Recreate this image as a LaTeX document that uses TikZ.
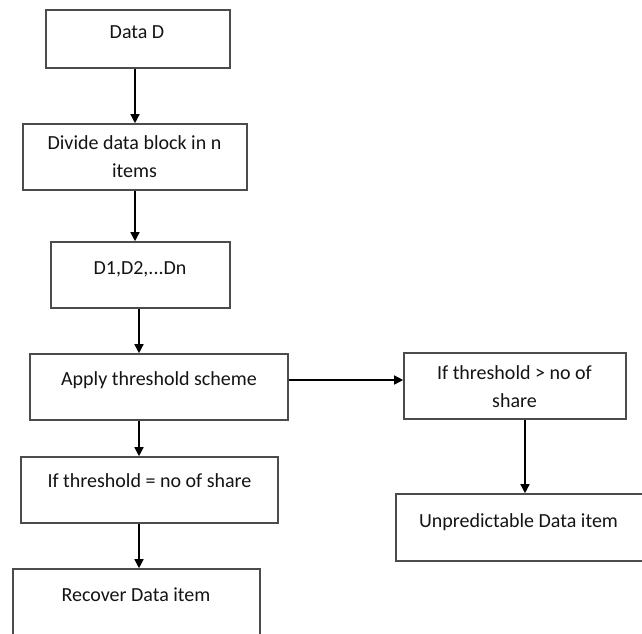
\documentclass[tikz,border=0pt]{standalone}
\usepackage{fontspec}
\setmainfont{Carlito}
\usetikzlibrary{arrows.meta}
\begin{document}
\begin{tikzpicture}[x=1pt,y=-1pt,
  box/.style={draw=black!70,line width=1.6pt,rectangle,inner sep=0pt},
  txt/.style={anchor=base,inner sep=0pt,align=center,text=black!92,
    font=\fontsize{20}{27.5}\selectfont},
  arr/.style={line width=1.4pt,-{Triangle[length=9pt,width=9pt]}}]
\useasboundingbox (0,0) rectangle (642,633);
\clip (0,0) rectangle (642,633);
\fill[white] (0,0) rectangle (642,633);
% process boxes
\node[box,minimum width=184pt,minimum height=58pt] (b1) at (138,39) {};
\node[box,minimum width=224pt,minimum height=66pt] (b2) at (135,157) {};
\node[box,minimum width=179pt,minimum height=66pt] (b3) at (140.5,275) {};
\node[box,minimum width=258pt,minimum height=66pt] (b4) at (159,387) {};
\node[box,minimum width=257pt,minimum height=66pt] (b5) at (149.5,490) {};
\node[box,minimum width=247pt,minimum height=68pt] (b6) at (136.5,603) {};
\node[box,minimum width=222pt,minimum height=66pt] (b7) at (515,386) {};
\node[box,minimum width=252pt,minimum height=67pt] (b8) at (522,527.5) {};
% labels (multi-line labels sit on the baseline of their last line)
\node[txt] (t1) at (137,38) {Data D};
\node[txt] (t2) at (134.5,177) {Divide data block in n\\items};
\node[txt] (t3) at (140,274.5) {D1,D2,...Dn};
\node[txt] (t4) at (159,385) {Apply threshold scheme};
\node[txt] (t5) at (149.5,487.5) {If threshold = no of share};
\node[txt] (t6) at (136,601) {Recover Data item};
\node[txt] (t7) at (514.5,407) {If threshold > no of\\share};
\node[txt] (t8) at (518.5,527) {Unpredictable Data item};
% connectors
\coordinate (c1) at (135,0);
\coordinate (c3) at (139,0);
\coordinate (c7) at (525,0);
\coordinate (h4) at (0,380);
\draw[arr] (b1.south -| c1) -- (b2.north -| c1);
\draw[arr] (b2.south -| c1) -- (b3.north -| c1);
\draw[arr] (b3.south -| c3) -- (b4.north -| c3);
\draw[arr] (b4.south -| c3) -- (b5.north -| c3);
\draw[arr] (b5.south -| c3) -- (b6.north -| c3);
\draw[arr] (b4.east |- h4) -- (b7.west |- h4);
\draw[arr] (b7.south -| c7) -- (b8.north -| c7);
\end{tikzpicture}
\end{document}
